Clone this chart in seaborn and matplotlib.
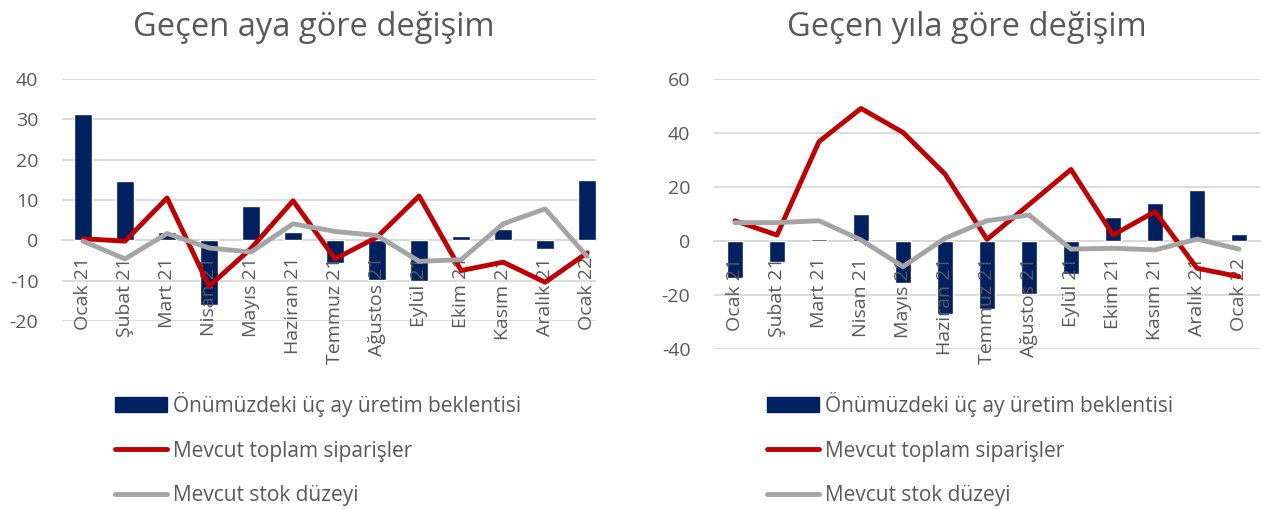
import numpy as np
import matplotlib.pyplot as plt
import seaborn as sns
from matplotlib.patches import Patch
from matplotlib.lines import Line2D

# aylar
months = ["Ocak 21", "Şubat 21", "Mart 21", "Nisan 21", "Mayıs 21", "Haziran 21", "Temmuz 21",
          "Ağustos 21", "Eylül 21", "Ekim 21", "Kasım 21", "Aralık 21", "Ocak 22"]

series_names = ["Önümüzdeki üç ay üretim beklentisi", "Mevcut toplam siparişler", "Mevcut stok düzeyi"]

# Geçen aya göre değişim
mom_uretim = [31.3, 14.7, 2.0, -16.0, 8.4, 2.0, -5.6, -9.8, -10.1, 1.0, 2.9, -2.1, 14.9]
mom_siparis = [0.4, -0.2, 10.5, -11.4, -2.0, 9.8, -4.6, 0.8, 11.0, -7.5, -5.4, -10.4, -3.1]
mom_stok = [-0.2, -4.6, 1.7, -1.9, -2.9, 4.1, 2.2, 1.2, -5.2, -4.8, 4.1, 7.8, -4.0]

# Geçen yıla göre değişim
yoy_uretim = [-13.8, -7.9, 0.6, 9.9, -15.7, -27.0, -25.3, -19.6, -12.2, 9.0, 14.0, 18.9, 2.6]
yoy_siparis = [7.5, 2.2, 36.8, 49.1, 40.2, 24.8, 0.6, 13.5, 26.5, 2.2, 10.9, -10.1, -13.2]
yoy_stok = [6.8, 6.8, 7.5, 0.4, -9.5, 1.0, 7.5, 9.6, -3.0, -2.7, -3.3, 0.7, -3.0]

NAVY = "#002060"
RED = "#C00000"
GREY = "#A5A5A5"
GRID = "#D9D9D9"
TXT = "#595959"

sns.set_style("white")
plt.rcParams["font.family"] = ["Open Sans", "DejaVu Sans"]
plt.rcParams["axes.unicode_minus"] = False

W, H = 1269, 509
fig = plt.figure(figsize=(W / 100, H / 100), dpi=100)


def add_ax(left, top, right, bottom):
    return fig.add_axes([left / W, 1 - bottom / H, (right - left) / W, (bottom - top) / H])


def draw(ax, bars, siparis, stok, ylim, step, xmax, barw):
    x = np.arange(len(months))
    yt = np.arange(ylim[0], ylim[1] + step, step)
    # grid lines behind the bars, tick labels above them
    for v in yt:
        ax.axhline(v, color=GRID, lw=1.3, zorder=0.5)
    sns.barplot(x=months, y=bars, color=NAVY, width=barw, saturation=1, ax=ax, zorder=1)
    sns.lineplot(x=x, y=siparis, color=RED, lw=3.5, ax=ax, zorder=3,
                 solid_joinstyle="round", solid_capstyle="round")
    sns.lineplot(x=x, y=stok, color=GREY, lw=3.5, ax=ax, zorder=4,
                 solid_joinstyle="round", solid_capstyle="round")
    ax.set_axisbelow(False)
    ax.set_yticks(yt)
    ax.set_xticks(x)
    ax.set_xticklabels(months)
    ax.set_xticks(np.arange(-0.5, len(months), 1), minor=True)
    ax.set_xlim(-0.5, xmax)
    ax.set_ylim(*ylim)
    for s in ["left", "right", "top"]:
        ax.spines[s].set_visible(False)
    ax.spines["bottom"].set_position(("data", 0))
    ax.spines["bottom"].set_color(GRID)
    ax.spines["bottom"].set_linewidth(1.3)
    ax.spines["bottom"].set_zorder(0.6)
    ax.tick_params(axis="x", which="major", length=0, pad=12, labelrotation=90,
                   labelsize=14, labelcolor=TXT)
    ax.tick_params(axis="x", which="minor", length=5, width=1.2, color=GRID)
    ax.tick_params(axis="y", length=0, pad=17, labelsize=14, labelcolor=TXT)
    ax.set_xlabel("")
    ax.set_ylabel("")


ax1 = add_ax(62, 79, 596, 321)
draw(ax1, mom_uretim, mom_siparis, mom_stok, (-20, 40), 10, 12.21, 0.43)

ax2 = add_ax(714, 79, 1260, 349)
draw(ax2, yoy_uretim, yoy_siparis, yoy_stok, (-40, 60), 20, 12.5, 0.39)

fig.text(314 / W, 1 - 28 / H, "Geçen aya göre değişim", ha="center", va="center",
         fontsize=23.5, color=TXT)
fig.text(967 / W, 1 - 28 / H, "Geçen yıla göre değişim", ha="center", va="center",
         fontsize=23.5, color=TXT)

handles = [Patch(facecolor=NAVY, edgecolor=NAVY),
           Line2D([0], [0], color=RED, lw=3.5, solid_capstyle="round"),
           Line2D([0], [0], color=GREY, lw=3.5, solid_capstyle="round")]

for lx in [115, 767]:
    fig.legend(handles, series_names, loc="upper left", bbox_to_anchor=(lx / W, 1 - 392 / H),
               frameon=False, fontsize=15, labelcolor=TXT, handlelength=2.5,
               handletextpad=0.28, labelspacing=1.13, borderpad=0, borderaxespad=0)

plt.savefig("out.png", dpi=100)
